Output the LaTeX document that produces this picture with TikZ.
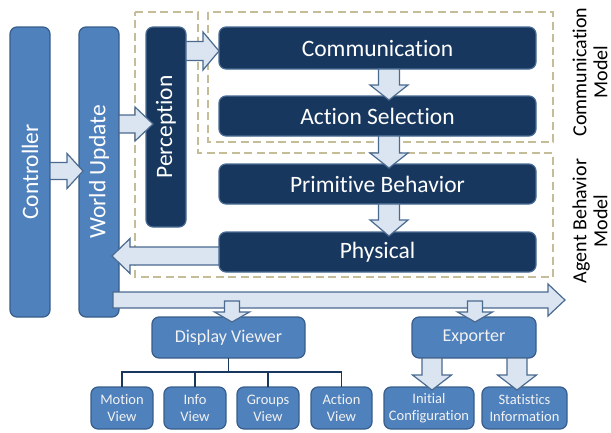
\documentclass[tikz,border=0pt]{standalone}
\usepackage{fontspec}
\setmainfont{Carlito}[Ligatures=NoCommon]
\usepackage{graphicx}
\usetikzlibrary{calc,positioning}
\definecolor{darkfill}{HTML}{17375E}
\definecolor{darkedge}{HTML}{4A6C93}
\definecolor{midfill}{HTML}{4F81BD}
\definecolor{midedge}{HTML}{385D8A}
\definecolor{arrowfill}{HTML}{DBE5F1}
\definecolor{arrowedge}{HTML}{4A6A90}
\definecolor{framecol}{HTML}{C4BD97}
\definecolor{treecol}{HTML}{17375E}
\tikzstyle{every node}=[inner sep=0, outer sep=0]
\tikzstyle{darkbox}=[draw=darkedge, fill=darkfill, line width=1.2pt, rounded corners=7pt, text=white, font=\fontsize{23.5}{26}\selectfont]
\tikzstyle{colbox}=[draw=midedge, fill=midfill, line width=1.2pt, rounded corners=7pt, text=white, font=\fontsize{23.5}{26}\selectfont]
\tikzstyle{viewbox}=[draw=midedge, fill=midfill, line width=1.2pt, rounded corners=7pt, text=white!95!black, font=\fontsize{18}{20}\selectfont]
\tikzstyle{leafbox}=[draw=midedge, fill=midfill, line width=1.2pt, rounded corners=7pt, text=white!95!black, align=center, minimum height=42pt, font=\fontsize{14.5}{17}\selectfont]
\tikzstyle{modelframe}=[draw=framecol, line width=1.3pt, dash pattern=on 8pt off 4.5pt]
\tikzstyle{blockarrow}=[draw=arrowedge, fill=arrowfill, line width=1.2pt, line join=miter]
\tikzstyle{treeline}=[draw=treecol, line width=1.5pt]
\tikzstyle{sidelabel}=[align=center, font=\fontsize{20}{21}\selectfont]
% from, to, shaft half width, head half width, head length
\newcommand{\blockarrow}[5]{%
  \path ($(#2)!#5!(#1)$) coordinate (hb);
  \draw[blockarrow] ($(#1)!#3!90:(#2)$) -- ($(hb)!#3!90:(#2)$) -- ($(hb)!#4!90:(#2)$) -- (#2)
    -- ($(hb)!#4!-90:(#2)$) -- ($(hb)!#3!-90:(#2)$) -- ($(#1)!#3!-90:(#2)$) -- cycle;}

\begin{document}
\begin{tikzpicture}[x=1pt,y=-1pt]
		\useasboundingbox (0,0) rectangle (611,432);
		% model frames
		\draw[modelframe] (208,12) rectangle (553,142);
		\draw[modelframe] (135,12) -- (198,12) -- (198,153) -- (553,153) -- (553,277) -- (135,277) -- cycle;
		\node[sidelabel,rotate=90] (cmlabel) at (590,72) {Communication\\Model};
		\node[sidelabel,rotate=90] (ablabel) at (590,221) {Agent Behavior\\Model};
		% columns
		\node[colbox,minimum width=40pt,minimum height=290pt] (ctrl) at (30,172) {\rotatebox{90}{Controller}};
		\node[colbox,minimum width=40pt,minimum height=290pt] (wu) at (99,172) {\rotatebox{90}{World Update}};
		\node[darkbox,minimum width=40pt,minimum height=200pt] (perc) at (166,127) {\rotatebox{90}{Perception}};
		% agent layers
		\node[darkbox,minimum width=317pt,minimum height=42pt] (comm) at (377.5,48) {Communication};
		\node[darkbox,minimum width=317pt,minimum height=40pt] (act) at (377.5,116) {Action Selection};
		\node[darkbox,minimum width=317pt,minimum height=40pt] (prim) at (377.5,184) {Primitive Behavior};
		\node[darkbox,minimum width=317pt,minimum height=40pt] (phys) at (377.5,252) {Physical};
		% output side
		\node[viewbox,minimum width=153pt,minimum height=41pt] (dv) at (228.5,337.5) {Display Viewer};
		\node[viewbox,minimum width=124pt,minimum height=41pt] (exp) at (474,337.5) {Exporter};
		\node[leafbox,minimum width=62pt] (mv) at (122,408) {Motion\\View};
		\node[leafbox,minimum width=62pt] (iv) at (195,408) {Info\\View};
		\node[leafbox,minimum width=62pt] (gv) at (268,408) {Groups\\View};
		\node[leafbox,minimum width=61pt] (av) at (341.5,408) {Action\\View};
		\node[leafbox,minimum width=90pt] (ic) at (429,408) {Initial\\Configuration};
		\node[leafbox,minimum width=85pt] (si) at (524.5,408) {Statistics\\Information};
		% arrow ends
		\coordinate (ctrlout) at (ctrl.east |- 0,171);
		\coordinate (wuin) at (83,171);
		\coordinate (wuout) at (wu.east |- 0,124);
		\coordinate (percin) at (153,124);
		\coordinate (percout) at (perc.east |- 0,51);
		\coordinate (commin) at (comm.west |- 0,51);
		\coordinate (commout) at (389,69);
		\coordinate (actin) at (389,100);
		\coordinate (actout) at (389,136);
		\coordinate (primin) at (389,168);
		\coordinate (primout) at (389,204);
		\coordinate (physin) at (389,236);
		\coordinate (physout) at (phys.west |- 0,256);
		\coordinate (wuback) at (112,256);
		\coordinate (busstart) at (113,300);
		\coordinate (busend) at (565,300);
		\coordinate (dvtop) at (232,301);
		\coordinate (dvin) at (232,322);
		\coordinate (exptop) at (475,301);
		\coordinate (expin) at (475,322);
		\coordinate (expl) at (432,358);
		\coordinate (icin) at (432,390);
		\coordinate (expr) at (517,358);
		\coordinate (siin) at (517,390);
		\blockarrow{ctrlout}{wuin}{8.5pt}{17.5pt}{16pt}
		\blockarrow{wuout}{percin}{9pt}{17pt}{18pt}
		\blockarrow{percout}{commin}{9.5pt}{19pt}{16pt}
		\blockarrow{commout}{actin}{10.5pt}{19pt}{15pt}
		\blockarrow{actout}{primin}{10.5pt}{19pt}{15pt}
		\blockarrow{primout}{physin}{10.5pt}{19pt}{16pt}
		\blockarrow{physout}{wuback}{9pt}{17.5pt}{18pt}
		\blockarrow{busstart}{busend}{8pt}{16pt}{17pt}
		\blockarrow{dvtop}{dvin}{7.5pt}{17.5pt}{10pt}
		\blockarrow{exptop}{expin}{7.5pt}{17.5pt}{10pt}
		\blockarrow{expl}{icin}{10pt}{19.5pt}{15pt}
		\blockarrow{expr}{siin}{10pt}{19.5pt}{15pt}
		% viewer tree
		\draw[treeline] (dv.south) -- ++(0,14) coordinate (tj);
		\draw[treeline] (tj) -| (mv.north);
		\draw[treeline] (tj) -| (iv.north);
		\draw[treeline] (tj) -| (gv.north);
		\draw[treeline] (tj) -| (av.north);
	\end{tikzpicture}
\end{document}
